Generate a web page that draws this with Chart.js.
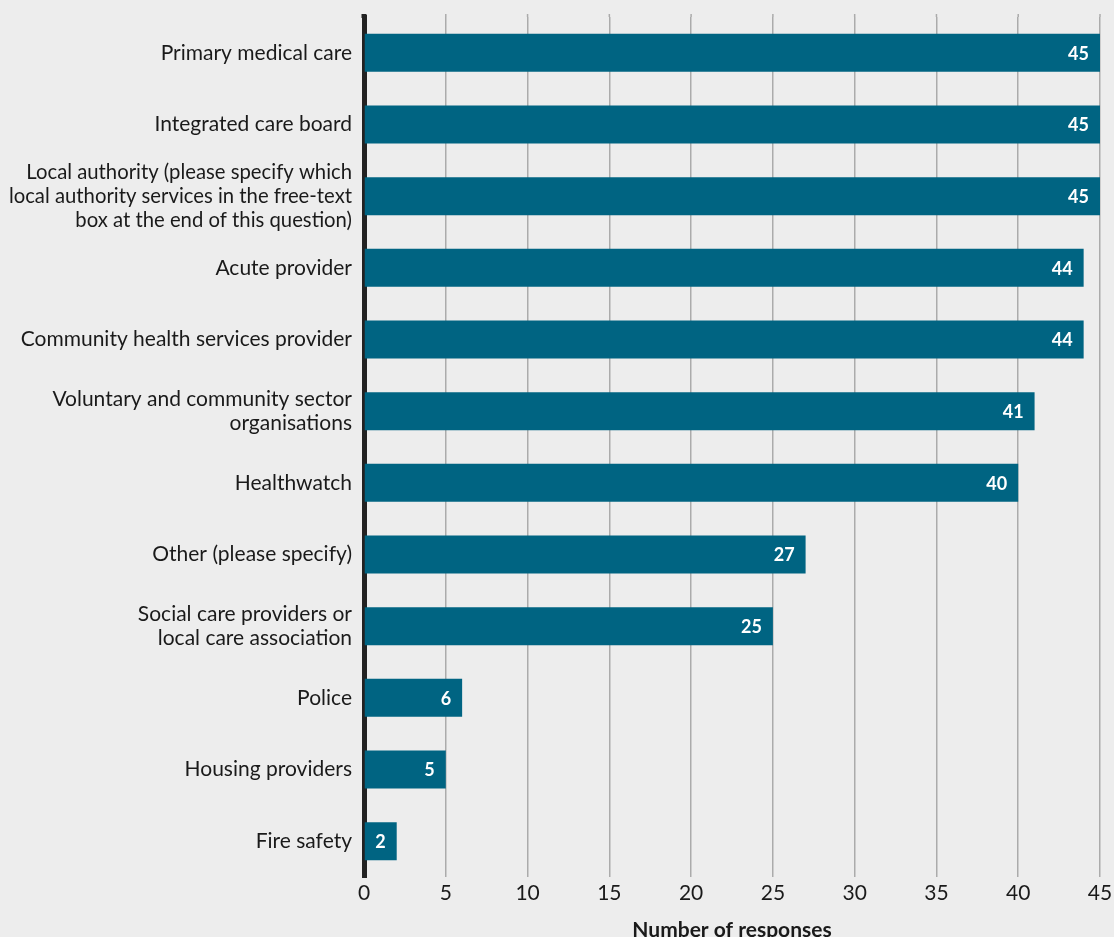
<!DOCTYPE html>
<html lang="en">
  <head>
    <meta charset="UTF-8" />
    <meta name="viewport" content="width=device-width, initial-scale=1.0" />
    <title>Partners - number of responses</title>
    <style>
      html,
      body {
        margin: 0;
        padding: 0;
        background: #ededed;
      }
      .chart-block {
        position: relative;
        width: 1114px;
        height: 937px;
      }
    </style>
  </head>
  <body>
    <div class="chart-block">
      <canvas id="myChart"></canvas>
    </div>

    <script src="https://cdn.jsdelivr.net/npm/chart.js"></script>

    <script>
      const labels = [
        "Primary medical care",
        "Integrated care board",
        [
          "Local authority (please specify which",
          "local authority services in the free-text",
          "box at the end of this question)",
        ],
        "Acute provider",
        "Community health services provider",
        ["Voluntary and community sector", "organisations"],
        "Healthwatch",
        "Other (please specify)",
        ["Social care providers or", "local care association"],
        "Police",
        "Housing providers",
        "Fire safety",
      ];
      const responses = [45, 45, 45, 44, 44, 41, 40, 27, 25, 6, 5, 2];
      const xTicks = [0, 5, 10, 15, 20, 25, 30, 35, 40, 45];

      const font = "Lato, 'Open Sans', sans-serif";
      const gridColor = "#ababab";
      const axisColor = "#222222";

      // white value text at the end of each bar
      const barValues = {
        id: "barValues",
        afterDatasetsDraw(chart) {
          const c = chart.ctx;
          const meta = chart.getDatasetMeta(0);
          c.save();
          c.fillStyle = "#ffffff";
          c.font = "bold 18px " + font;
          c.textAlign = "right";
          c.textBaseline = "middle";
          meta.data.forEach((bar, i) => {
            c.fillText(String(responses[i]), bar.x - 11, bar.y + 1);
          });
          c.restore();
        },
      };

      // grid lines and the y axis stick out a little above the plot
      const topOverhang = {
        id: "topOverhang",
        beforeDatasetsDraw(chart) {
          const c = chart.ctx;
          const area = chart.chartArea;
          const x = chart.scales.x;
          c.save();
          c.strokeStyle = gridColor;
          c.lineWidth = 1.5;
          xTicks.slice(1).forEach((v) => {
            const px = x.getPixelForValue(v);
            c.beginPath();
            c.moveTo(px, area.top - 3);
            c.lineTo(px, area.top);
            c.stroke();
          });
          c.strokeStyle = axisColor;
          c.lineWidth = 5;
          c.beginPath();
          c.moveTo(area.left, area.top - 3);
          c.lineTo(area.left, area.top + 1);
          c.stroke();
          c.restore();
        },
      };

      const ctx = document.getElementById("myChart");

      const chart = new Chart(ctx, {
        type: "bar",
        data: {
          labels: labels,
          datasets: [
            {
              data: responses,
              backgroundColor: "#006482",
              barPercentage: 0.53,
              categoryPercentage: 1,
            },
          ],
        },
        options: {
          indexAxis: "y",
          responsive: true,
          maintainAspectRatio: false,
          animation: false,
          layout: {
            padding: { top: 17, right: 14, bottom: 0, left: 0 },
          },
          plugins: {
            legend: { display: false },
            tooltip: { enabled: false },
          },
          scales: {
            x: {
              min: 0,
              max: 45,
              afterBuildTicks: (scale) => {
                scale.ticks = xTicks.map((v) => ({ value: v }));
              },
              afterFit: (scale) => {
                scale.height = 60;
                scale.paddingLeft = 0;
                scale.paddingRight = 0;
              },
              grid: {
                color: gridColor,
                lineWidth: 1.5,
                drawTicks: false,
              },
              border: { display: false },
              ticks: {
                color: "#1a1a1a",
                padding: 4,
                font: { family: font, size: 21 },
              },
              title: {
                display: true,
                text: "Number of responses",
                color: "#1a1a1a",
                padding: { top: 0, bottom: -6 },
                font: { family: font, size: 21, weight: "bold" },
              },
            },
            y: {
              z: 1,
              afterFit: (scale) => {
                scale.width = 364;
                scale.paddingTop = 0;
                scale.paddingBottom = 0;
              },
              grid: { display: false, drawTicks: false },
              border: { display: true, color: axisColor, width: 5 },
              ticks: {
                autoSkip: false,
                color: "#1a1a1a",
                padding: 12,
                font: (c) =>
                  c.index === 2
                    ? { family: font, size: 20.3, lineHeight: "24px" }
                    : { family: font, size: 21, lineHeight: "24px" },
              },
            },
          },
        },
        plugins: [barValues, topOverhang],
      });
    </script>
  </body>
</html>
